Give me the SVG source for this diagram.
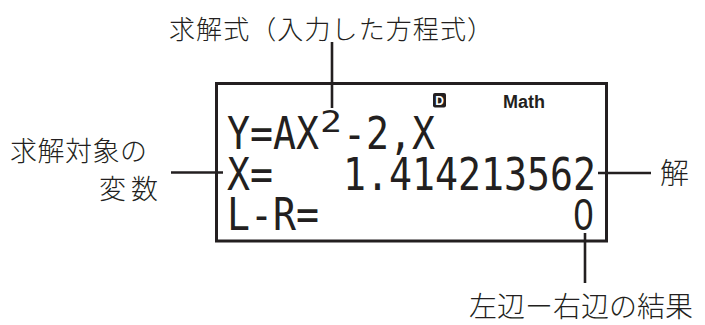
<svg xmlns="http://www.w3.org/2000/svg" width="705" height="325" viewBox="0 0 705 325">
<style>
.lbl{font-family:"Noto Sans CJK JP","Noto Sans CJK SC",sans-serif;font-weight:300;fill:#231f20}
.lcd{font-family:"DejaVu Sans Mono","Liberation Mono",monospace;font-size:44px;fill:#231f20}
.conn{stroke:#231f20;stroke-width:2.6;fill:none}
</style>
<rect width="705" height="325" fill="#ffffff"/>
<g id="display">
<rect x="216.5" y="83.5" width="390" height="157.5" fill="none" stroke="#231f20" stroke-width="3"/>
<rect x="433" y="93" width="13" height="14.5" rx="2" fill="#231f20"/>
<text x="439.5" y="105" text-anchor="middle" style="font-family:'Liberation Sans',sans-serif;font-weight:bold;font-size:12px;fill:#ffffff">D</text>
<text x="503" y="108" textLength="42" lengthAdjust="spacingAndGlyphs" style="font-family:'Liberation Sans',sans-serif;font-weight:bold;font-size:18px;fill:#231f20">Math</text>
<text class="lcd" x="227" y="149" textLength="92" lengthAdjust="spacingAndGlyphs">Y=AX</text>
<text class="lcd" x="320" y="132" textLength="22" lengthAdjust="spacingAndGlyphs" style="font-size:31px">2</text>
<text class="lcd" x="343" y="149" textLength="92" lengthAdjust="spacingAndGlyphs">-2,X</text>
<text class="lcd" x="227" y="190" textLength="46" lengthAdjust="spacingAndGlyphs">X=</text>
<text class="lcd" x="343" y="190" textLength="253" lengthAdjust="spacingAndGlyphs">1.414213562</text>
<text class="lcd" x="227" y="230" textLength="92" lengthAdjust="spacingAndGlyphs">L-R=</text>
<text x="583.5" y="230" text-anchor="middle" textLength="20" lengthAdjust="spacingAndGlyphs" style="font-family:'Liberation Sans',sans-serif;font-size:45px;fill:#231f20">0</text>
</g>
<g id="label-equation">
<text class="lbl" x="169" y="39" font-size="26" textLength="324">求解式（入力した方程式）</text>
</g>
<g id="label-variable">
<text class="lbl" x="10" y="161" font-size="27" textLength="137">求解対象の</text>
<text class="lbl" x="99" y="199" font-size="27" textLength="59">変数</text>
</g>
<g id="label-solution">
<text class="lbl" x="660" y="184" font-size="29">解</text>
</g>
<g id="label-result">
<text class="lbl" x="469" y="317" font-size="28" textLength="224">左辺ー右辺の結果</text>
</g>
<g id="connectors">
<line class="conn" x1="332" y1="42" x2="332" y2="108"/>
<line class="conn" x1="171" y1="172.5" x2="223" y2="172.5"/>
<line class="conn" x1="598" y1="173" x2="651" y2="173"/>
<line class="conn" x1="585" y1="233" x2="585" y2="283"/>
</g>
</svg>
